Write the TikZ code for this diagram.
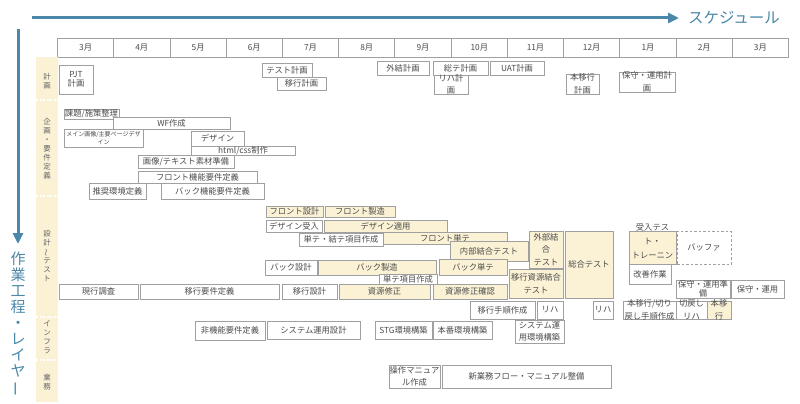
\documentclass[tikz,border=0pt]{standalone}
\usepackage{fontspec}
\setmainfont{Noto Sans CJK JP}
\usetikzlibrary{arrows.meta}
\definecolor{schedblue}{RGB}{74,135,168}
\definecolor{cream}{RGB}{251,242,214}
\definecolor{boxgray}{RGB}{160,160,160}
\definecolor{txtgray}{RGB}{75,75,75}
\definecolor{catgray}{RGB}{100,100,100}

\begin{document}
\begin{tikzpicture}[x=1pt,y=-1pt,
  box/.style={draw=boxgray,line width=0.8pt,fill=white,inner sep=0pt,
    font=\fontsize{8.3}{9.5}\selectfont,text=txtgray,align=center},
  cbox/.style={box,fill=cream},
  wh/.style 2 args={minimum width=#1pt,minimum height=#2pt},
  month/.style={draw=boxgray,line width=0.8pt,fill=white,inner sep=0pt,
    minimum width=56.23pt,minimum height=19pt,
    font=\fontsize{8.3}{9}\selectfont,text=txtgray},
  cat/.style={inner sep=0pt,align=center,text=catgray,
    font=\fontsize{7.5}{9}\selectfont},
  txt/.style={inner sep=0pt,align=center,text=txtgray,
    font=\fontsize{8.3}{12.5}\selectfont},
  lbl/.style={label={[txt]center:#1}},
  bigarrow/.style={draw=schedblue,line width=3pt,
    -{Triangle[length=11pt,width=10pt]}}]
\useasboundingbox (0,0) rectangle (800,404);

% axes
\coordinate (hstart) at (32,18);
\coordinate (hend) at (679,18);
\coordinate (vstart) at (18,29);
\coordinate (vend) at (18,244);
\draw[bigarrow] (hstart) -- (hend);
\draw[bigarrow] (vstart) -- (vend);
\node[inner sep=0pt,text=schedblue,font=\fontsize{15.5}{16}\selectfont] (sched) at (734,18) {スケジュール};
\node[inner sep=0pt,align=center,text=schedblue,font=\fontsize{15}{16}\selectfont] (layer) at (18,324)
  {作\\業\\工\\程\\・\\レ\\イ\\ヤ\\\rotatebox[origin=c]{90}{ー}};

% months
\node[month] (m1) at (85.6,47.5) {3月};
\node[month] (m2) at (141.8,47.5) {4月};
\node[month] (m3) at (198.1,47.5) {5月};
\node[month] (m4) at (254.3,47.5) {6月};
\node[month] (m5) at (310.5,47.5) {7月};
\node[month] (m6) at (366.8,47.5) {8月};
\node[month] (m7) at (423.0,47.5) {9月};
\node[month] (m8) at (479.3,47.5) {10月};
\node[month] (m9) at (535.5,47.5) {11月};
\node[month] (m10) at (591.7,47.5) {12月};
\node[month] (m11) at (648.0,47.5) {1月};
\node[month] (m12) at (704.2,47.5) {2月};
\node[month] (m13) at (760.4,47.5) {3月};

% layers
\fill[cream] (36,57) rectangle (58,402);
\draw[white,line width=1.2pt,dashed,dash pattern=on 2pt off 1.5pt] (36,100) -- (58,100);
\draw[white,line width=1.2pt,dashed,dash pattern=on 2pt off 1.5pt] (36,196) -- (58,196);
\draw[white,line width=1.2pt,dashed,dash pattern=on 2pt off 1.5pt] (36,317) -- (58,317);
\draw[white,line width=1.2pt,dashed,dash pattern=on 2pt off 1.5pt] (36,360) -- (58,360);
\node[cat] (catplan) at (47,81.5) {計\\画};
\node[cat] (catreq) at (47,149) {企\\画\\・\\要\\件\\定\\義};
\node[cat] (cattest) at (47,256.5) {設\\計\\\rotatebox[origin=c]{90}{〜}\\テ\\ス\\ト};
\node[cat] (catinfra) at (47,337.5) {イ\\ン\\フ\\ラ};
\node[cat] (catbiz) at (47,382) {業\\務};

% 計画
\node[box,wh={34}{29}] (pjt) at (76,79.5) {PJT\\計画};
\node[box,wh={50}{14}] (testplan) at (287,70) {テスト計画};
\node[box,wh={49}{13}] (migplan) at (301.5,83.5) {移行計画};
\node[box,wh={52}{14}] (extplan) at (403,68) {外結計画};
\node[box,wh={55}{14}] (sysplan) at (460.5,68) {総テ計画};
\node[box,wh={34}{19},lbl={リハ計\\画}] (rehaplan) at (451,84.5) {};
\node[box,wh={54}{14}] (uatplan) at (517,68) {UAT計画};
\node[box,wh={33}{20},lbl={本移行\\計画}] (golive) at (582.5,84) {};
\node[box,wh={56}{20},lbl={保守・運用計\\画}] (opsplan) at (647,82) {};

% 企画・要件定義
\node[box,wh={55}{10}] (issue) at (91.5,114) {課題/施策整理};
\node[box,wh={117}{12}] (wf) at (171.5,123) {WF作成};
\node[box,wh={79}{18},font=\fontsize{6}{7.5}\selectfont] (maindesign) at (103.5,138) {メイン画像/主要ページデザ\\イン};
\node[box,wh={53}{15}] (design) at (217.5,138.5) {デザイン};
\node[box,wh={104}{9}] (html) at (243,150.5) {html/css制作};
\node[box,wh={96}{13}] (material) at (186,161.5) {画像/テキスト素材準備};
\node[box,wh={119}{12}] (frontreq) at (197.5,177) {フロント機能要件定義};
\node[box,wh={57}{16}] (envdef) at (117.5,191) {推奨環境定義};
\node[box,wh={103}{16}] (backreq) at (212.5,191) {バック機能要件定義};

% 設計〜テスト
\node[cbox,wh={57}{11}] (frontdes) at (294.5,211.5) {フロント設計};
\node[cbox,wh={70}{11}] (frontdev) at (360,211.5) {フロント製造};
\node[box,wh={56}{12}] (desrecv) at (294,226) {デザイン受入};
\node[cbox,wh={123}{12}] (desapply) at (385.5,226) {デザイン適用};
\node[box,wh={84}{13}] (caseitems) at (341,239.5) {単テ・結テ項目作成};
\node[cbox,wh={124}{12}] (frontut) at (445,238) {フロント単テ};
\node[cbox,wh={78}{20}] (intit) at (489,251) {内部結合テスト};
\node[cbox,wh={34}{37},lbl={外部結\\合\\テスト}] (extit) at (546,249.5) {};
\node[cbox,wh={48}{67}] (systest) at (589,264.5) {総合テスト};
\node[box,wh={52}{15}] (backdes) at (291,267.5) {バック設計};
\node[cbox,wh={118}{15}] (backdev) at (377,267.5) {バック製造};
\node[box,wh={58}{10}] (utitems) at (408,279) {単テ項目作成};
\node[cbox,wh={68}{16}] (backut) at (473,267) {バック単テ};
\node[cbox,wh={54}{29},lbl={移行資源結合\\テスト}] (migit) at (536,283.5) {};
\node[box,wh={79}{15}] (survey) at (98.5,291.5) {現行調査};
\node[box,wh={139}{15}] (migreq) at (209.5,291.5) {移行要件定義};
\node[box,wh={55}{15}] (migdes) at (309.5,291.5) {移行設計};
\node[cbox,wh={91}{15}] (resfix) at (384.5,291.5) {資源修正};
\node[cbox,wh={74}{15}] (rescheck) at (470,291.5) {資源修正確認};
\node[cbox,wh={47}{33},label={[txt,font=\fontsize{8.3}{14}\selectfont,yshift=6.5pt]center:受入テス\\ト・\\トレーニン}] (uat) at (652.5,247.5) {};
\node[box,wh={54}{33},dashed,dash pattern=on 2.5pt off 2pt] (buffer) at (704,247.5) {バッファ};
\node[box,wh={42}{20}] (improve) at (650,274) {改善作業};
\node[box,wh={54}{18}] (opsprep) at (703,289) {保守・運用準\\備};
\node[box,wh={53}{18}] (ops) at (757.5,289) {保守・運用};
\node[box,wh={53}{18},lbl={本移行/切り\\戻し手順作成}] (cutover) at (649.5,310) {};
\node[box,wh={31}{18},lbl={切戻し\\リハ}] (rollback) at (691.5,310) {};
\node[cbox,wh={24}{18},lbl={本移\\行}] (migrate) at (719,310) {};
\node[box,wh={65}{18}] (migproc) at (502.5,310) {移行手順作成};
\node[box,wh={26}{18}] (reha1) at (550,310) {リハ};
\node[box,wh={20}{18}] (reha2) at (603,310) {リハ};

% インフラ
\node[box,wh={70}{19}] (nonfunc) at (230,330.5) {非機能要件定義};
\node[box,wh={93}{18}] (sysops) at (313.5,330) {システム運用設計};
\node[box,wh={57}{18}] (stg) at (403.5,330) {STG環境構築};
\node[box,wh={59}{18}] (prod) at (462.5,330) {本番環境構築};
\node[box,wh={49}{23},lbl={システム運\\用環境構築}] (opsenv) at (539.5,331.5) {};

% 業務
\node[box,wh={51}{23},lbl={操作マニュア\\ル作成}] (manual) at (414.5,376.5) {};
\node[box,wh={169}{23}] (newflow) at (526.5,376.5) {新業務フロー・マニュアル整備};
\end{tikzpicture}
\end{document}
